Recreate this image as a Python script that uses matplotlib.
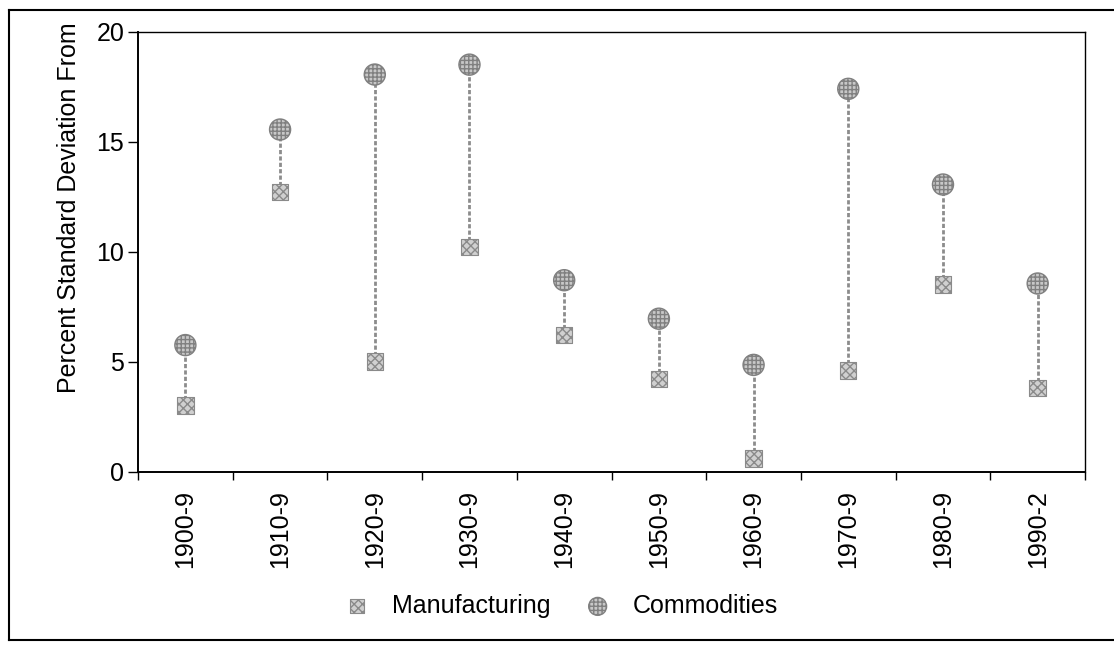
import matplotlib
matplotlib.use("Agg")
import matplotlib.pyplot as plt
from matplotlib.lines import Line2D
import numpy as np

# data
decades = ['1900-9', '1910-9', '1920-9', '1930-9', '1940-9',
           '1950-9', '1960-9', '1970-9', '1980-9', '1990-2']
manufacturing = [3.0, 12.7, 5.0, 10.2, 6.2, 4.2, 0.6, 4.6, 8.5, 3.8]
commodities = [5.75, 15.55, 18.05, 18.5, 8.7, 6.95, 4.85, 17.4, 13.05, 8.55]

plt.rcParams['font.family'] = ['Liberation Sans', 'DejaVu Sans']
plt.rcParams['hatch.linewidth'] = 1.0

fig = plt.figure(figsize=(11.14, 6.46), dpi=100)
ax = fig.add_axes([0.1239, 0.270, 0.8501, 0.681])

x = np.arange(len(decades))

# high-low lines
ax.vlines(x, manufacturing, commodities, color='#8c8c8c', lw=2,
          linestyle=(0, (1.5, 0.8)), zorder=2)

ax.scatter(x, manufacturing, marker='s', s=140, facecolor='#d0d0d0',
           edgecolor='#8a8a8a', hatch='xxxx', lw=0.8, zorder=3,
           label='Manufacturing')
ax.scatter(x, commodities, marker='o', s=230, facecolor='#c8c8c8',
           edgecolor='#808080', hatch='++++', lw=1.0, zorder=3,
           label='Commodities')

ax.set_xlim(-0.5, len(decades) - 0.5)
ax.set_ylim(0, 20)
ax.set_yticks([0, 5, 10, 15, 20])
ax.tick_params(axis='y', direction='out', length=7, width=1, labelsize=18, pad=3)

ax.set_xticks(x)
ax.set_xticklabels(decades, rotation=90, fontsize=18)
ax.set_xticks(np.arange(-0.5, len(decades), 1), minor=True)
ax.tick_params(axis='x', which='major', length=0, pad=13)
ax.tick_params(axis='x', which='minor', direction='out', length=6, width=1)

for s in ax.spines.values():
    s.set_color('black')
    s.set_linewidth(1.0)
ax.spines['left'].set_linewidth(1.4)
ax.spines['bottom'].set_linewidth(1.4)

ax.set_ylabel('Percent Standard Deviation From', fontsize=18)
ax.yaxis.set_label_coords(-0.06, 0.60)

leg = fig.legend(loc='center', bbox_to_anchor=(0.498, 0.062), ncol=2,
                 frameon=False, fontsize=18, handletextpad=0.4,
                 columnspacing=0.9, markerscale=0.85)

# outer chart frame
fig.add_artist(Line2D([0.008, 1.0], [0.985, 0.985], color='black', lw=1.5))
fig.add_artist(Line2D([0.008, 0.008], [0.985, 0.009], color='black', lw=1.5))
fig.add_artist(Line2D([0.008, 1.0], [0.009, 0.009], color='black', lw=1.5))

fig.savefig('out.png', dpi=100)
